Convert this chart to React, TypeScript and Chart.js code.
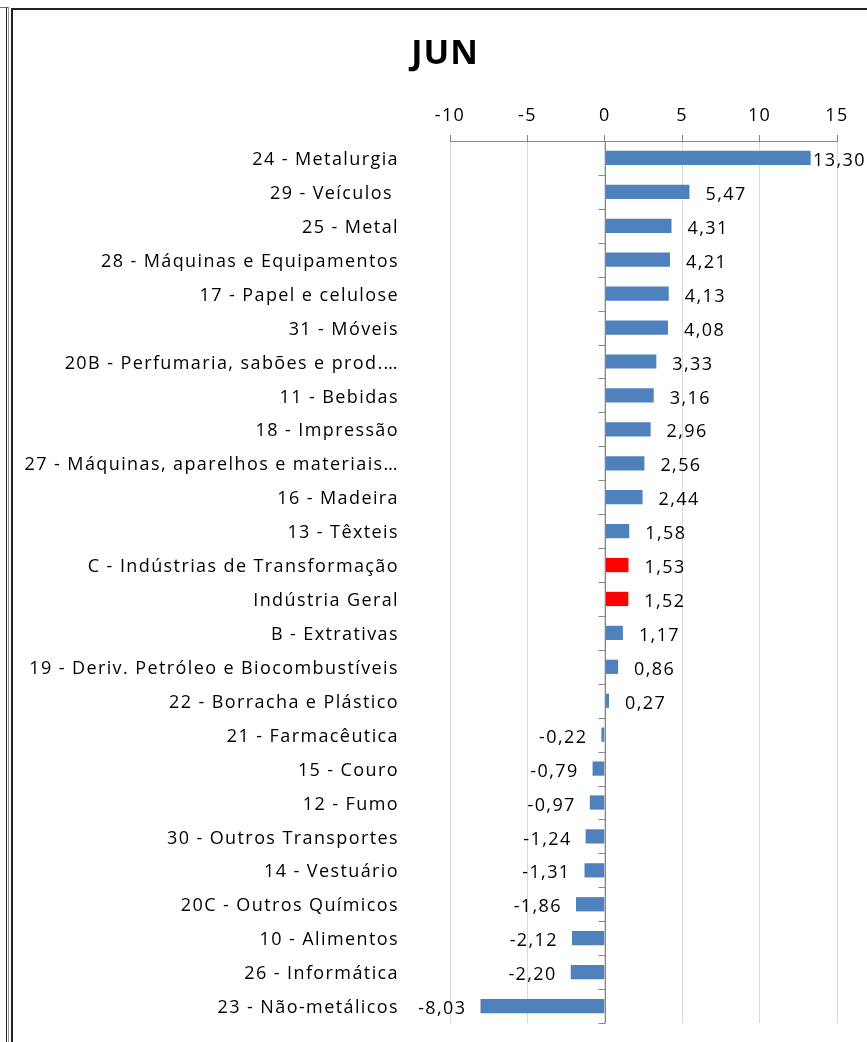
import React, { useEffect, useRef } from "react";
import { Chart, registerables } from "chart.js";

Chart.register(...registerables);

const categories: string[] = [
  "24 - Metalurgia",
  "29 - Veículos ",
  "25 - Metal",
  "28 - Máquinas e Equipamentos",
  "17 - Papel e celulose",
  "31 - Móveis",
  "20B - Perfumaria, sabões e prod.…",
  "11 - Bebidas",
  "18 - Impressão",
  "27 - Máquinas, aparelhos e materiais…",
  "16 - Madeira",
  "13 - Têxteis",
  "C - Indústrias de Transformação",
  "Indústria Geral",
  "B - Extrativas",
  "19 - Deriv. Petróleo e Biocombustíveis",
  "22 - Borracha e Plástico",
  "21 - Farmacêutica",
  "15 - Couro",
  "12 - Fumo",
  "30 - Outros Transportes",
  "14 - Vestuário",
  "20C - Outros Químicos",
  "10 - Alimentos",
  "26 - Informática",
  "23 - Não-metálicos",
];

const values: number[] = [
  13.3, 5.47, 4.31, 4.21, 4.13, 4.08, 3.33, 3.16, 2.96, 2.56, 2.44, 1.58, 1.53,
  1.52, 1.17, 0.86, 0.27, -0.22, -0.79, -0.97, -1.24, -1.31, -1.86, -2.12,
  -2.2, -8.03,
];

const highlighted: string[] = ["C - Indústrias de Transformação", "Indústria Geral"];

const xMin = -10;
const xMax = 15;
const xStep = 5;
const title = "JUN";

const FONT = "'Open Sans', 'Noto Sans', sans-serif";
const SPACING = "1.4px";

const spacingPlugin = {
  id: "spacing",
  beforeInit(chart: any) {
    chart.ctx.letterSpacing = SPACING;
  },
  beforeUpdate(chart: any) {
    chart.ctx.letterSpacing = SPACING;
  },
  beforeDraw(chart: any) {
    chart.ctx.letterSpacing = SPACING;
  },
};

const titlePlugin = {
  id: "centerTitle",
  afterDraw(chart: any) {
    const ctx = chart.ctx;
    ctx.save();
    ctx.letterSpacing = "1px";
    ctx.font = `bold 34px ${FONT}`;
    ctx.fillStyle = "#000";
    ctx.textAlign = "center";
    ctx.textBaseline = "middle";
    ctx.fillText(title, chart.width / 2, 44.5);
    ctx.restore();
  },
};

const valueLabelPlugin = {
  id: "valueLabels",
  afterDatasetsDraw(chart: any) {
    const ctx = chart.ctx;
    const meta = chart.getDatasetMeta(0);
    const area = chart.chartArea;
    ctx.save();
    ctx.letterSpacing = SPACING;
    ctx.font = `18px ${FONT}`;
    ctx.fillStyle = "#000";
    ctx.textBaseline = "middle";
    meta.data.forEach((bar: any, i: number) => {
      const v = values[i];
      const txt = v.toFixed(2).replace(".", ",");
      if (v >= 0) {
        ctx.textAlign = "left";
        const x = Math.min(bar.x + 16, area.right - 24);
        ctx.fillText(txt, x, bar.y + 3);
      } else {
        ctx.textAlign = "right";
        ctx.fillText(txt, bar.x - 14, bar.y + 3);
      }
    });
    ctx.restore();
  },
};

const zeroTicksPlugin = {
  id: "zeroTicks",
  afterDatasetsDraw(chart: any) {
    const ctx = chart.ctx;
    const xs = chart.scales.x;
    const ys = chart.scales.y;
    const x0 = Math.round(xs.getPixelForValue(0)) + 0.5;
    const n = categories.length;
    const step = (ys.bottom - ys.top) / n;
    ctx.save();
    ctx.strokeStyle = "#868686";
    ctx.lineWidth = 1;
    ctx.beginPath();
    ctx.moveTo(x0, ys.top);
    ctx.lineTo(x0, ys.bottom);
    for (let i = 0; i <= n; i++) {
      const y = Math.round(ys.top + i * step) + 0.5;
      ctx.moveTo(x0 - 7, y);
      ctx.lineTo(x0, y);
    }
    ctx.stroke();
    ctx.restore();
  },
};

export default function App() {
  const ref = useRef<HTMLCanvasElement | null>(null);

  useEffect(() => {
    if (!ref.current) return;
    const chart = new Chart(ref.current, {
      type: "bar",
      data: {
        labels: categories,
        datasets: [
          {
            data: values,
            backgroundColor: categories.map((c) =>
              highlighted.includes(c) ? "#FF0000" : "#4F81BD"
            ),
            borderWidth: 0,
            barPercentage: 0.42,
            categoryPercentage: 1,
          },
        ],
      },
      options: {
        indexAxis: "y",
        animation: false,
        responsive: false,
        maintainAspectRatio: false,
        layout: { padding: { left: 0, right: 41, top: 73.8, bottom: 19 } },
        plugins: {
          legend: { display: false },
          tooltip: { enabled: false },
          title: { display: false },
        },
        scales: {
          x: {
            type: "linear",
            position: "top",
            min: xMin,
            max: xMax,
            ticks: {
              stepSize: xStep,
              color: "#000",
              padding: 8,
              font: { family: FONT, size: 18 },
            },
            grid: {
              color: "#D9D9D9",
              tickColor: "#868686",
              tickLength: 6,
              lineWidth: 1,
            },
            border: { display: true, color: "#868686" },
            afterFit: (scale: any) => {
              scale.height = 57.2;
            },
          },
          y: {
            type: "category",
            position: "left",
            grid: { display: false, drawTicks: false },
            border: { display: false },
            ticks: {
              color: "#000",
              padding: 51,
              labelOffset: 2,
              autoSkip: false,
              font: { family: FONT, size: 18 },
            },
            afterFit: (scale: any) => {
              scale.width = 438;
              scale.paddingTop = 0;
              scale.paddingBottom = 0;
            },
          },
        },
      },
      plugins: [spacingPlugin, valueLabelPlugin, zeroTicksPlugin, titlePlugin],
    });
    return () => chart.destroy();
  }, []);

  return (
    <div
      style={{
        position: "fixed",
        left: 0,
        top: 0,
        width: 867,
        height: 1042,
        overflow: "hidden",
        background: "#fff",
      }}
    >
      <div
        style={{
          position: "absolute",
          left: 0,
          top: 7,
          width: 8,
          height: 0,
          borderTop: "1px solid #777",
        }}
      />
      <div
        style={{
          position: "absolute",
          left: 6,
          top: 7,
          width: 1,
          height: 1042,
          borderLeft: "1px solid #222",
          borderRight: "1px solid #999",
        }}
      />
      <div
        style={{
          position: "absolute",
          left: 11,
          top: 8,
          width: 900,
          height: 1100,
          borderLeft: "2px solid #222",
          borderTop: "2px solid #222",
        }}
      />
      <canvas
        ref={ref}
        width={866}
        height={1032}
        style={{ position: "absolute", left: 12, top: 10, width: 866, height: 1032 }}
      />
    </div>
  );
}
